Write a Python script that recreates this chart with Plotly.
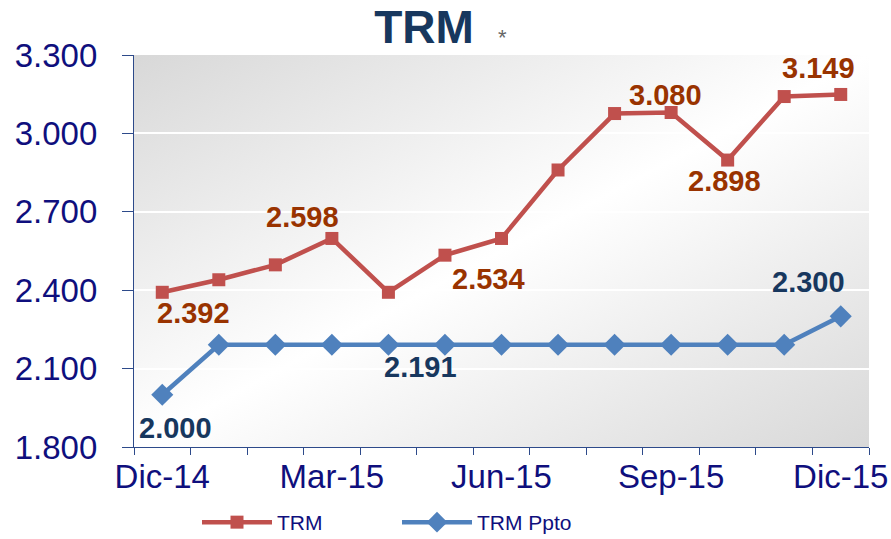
import base64
import plotly.graph_objects as go

# ---------------- data ----------------
months = ["Dic-14", "Ene-15", "Feb-15", "Mar-15", "Abr-15", "May-15", "Jun-15",
          "Jul-15", "Ago-15", "Sep-15", "Oct-15", "Nov-15", "Dic-15"]
trm = [2392, 2440, 2497, 2598, 2392, 2534, 2598, 2860, 3076, 3080, 2898, 3141, 3149]
trm_ppto = [2000, 2191, 2191, 2191, 2191, 2191, 2191, 2191, 2191, 2191, 2191, 2191, 2300]
tick_labels = ["Dic-14", "", "", "Mar-15", "", "", "Jun-15", "", "", "Sep-15", "", "", "Dic-15"]
y_ticks = [1800, 2100, 2400, 2700, 3000, 3300]

# which points carry a data label (index) and the label offset in px
trm_labels = [(0, 31, -21), (3, -29, 21), (5, 44, -24), (9, -6, 17), (10, -3, -21), (12, -22, 26)]
ppto_labels = [(0, 13, -33), (4, 32, -22), (12, -32, 34)]

RED = "#c0504d"
BLUE = "#4f81bd"
RED_TXT = "#993300"
BLUE_TXT = "#17375e"
TICK_TXT = "#0f0f7d"
AXIS = "#2d4a8a"
FONT = "Liberation Sans, Arial, sans-serif"


def fmt(v):
    return f"{v:,.0f}".replace(",", ".")


fig = go.Figure()
fig.add_trace(go.Scatter(
    x=months, y=trm, name="TRM", mode="lines+markers",
    line=dict(color=RED, width=4.5),
    marker=dict(symbol="square", size=13, color=RED),
))
fig.add_trace(go.Scatter(
    x=months, y=trm_ppto, name="TRM Ppto", mode="lines+markers",
    line=dict(color=BLUE, width=4.5),
    marker=dict(symbol="diamond", size=17, color=BLUE),
))

annotations = []
for i, dx, dy in trm_labels:
    annotations.append(dict(x=months[i], y=trm[i], text=fmt(trm[i]), showarrow=False,
                            xshift=dx, yshift=dy,
                            font=dict(family=FONT, size=29, color=RED_TXT, weight="bold")))
for i, dx, dy in ppto_labels:
    annotations.append(dict(x=months[i], y=trm_ppto[i], text=fmt(trm_ppto[i]), showarrow=False,
                            xshift=dx, yshift=dy,
                            font=dict(family=FONT, size=29, color=BLUE_TXT, weight="bold")))
annotations.append(dict(x=0.5007, y=1.082, xref="paper", yref="paper", text="*", showarrow=False,
                        font=dict(family=FONT, size=22, color="#666666")))

svg = ('<svg xmlns="http://www.w3.org/2000/svg" width="100" height="100" preserveAspectRatio="none">'
       '<defs><linearGradient id="g" x1="0" y1="0" x2="1" y2="1">'
       '<stop offset="0" stop-color="#d8d8d8"/>'
       '<stop offset="0.5" stop-color="#ffffff"/>'
       '<stop offset="1" stop-color="#d8d8d8"/>'
       '</linearGradient></defs>'
       '<rect width="100" height="100" fill="url(#g)"/></svg>')
src = "data:image/svg+xml;base64," + base64.b64encode(svg.encode()).decode()

fig.update_layout(
    width=891, height=539,
    margin=dict(l=134, r=22, t=55, b=92, autoexpand=False),
    paper_bgcolor="white", plot_bgcolor="rgba(0,0,0,0)",
    separators=",.",
    font=dict(family=FONT, color=TICK_TXT),
    title=dict(text="<b>TRM</b>", x=424 / 891, xanchor="center", xref="container",
               y=1 - 27 / 539, yanchor="middle", yref="container",
               font=dict(family=FONT, size=46, color=BLUE_TXT)),
    images=[dict(source=src, xref="paper", yref="paper", x=0, y=1, sizex=1, sizey=1,
                 sizing="stretch", layer="below", xanchor="left", yanchor="top")],
    xaxis=dict(type="category", range=[-0.5, 12.5], tickson="boundaries",
               tickvals=months, ticktext=tick_labels, tickangle=0, automargin=False,
               ticks="outside", ticklen=7, tickcolor=AXIS, tickwidth=1.3,
               showline=True, linecolor=AXIS, linewidth=1.3, showgrid=False,
               tickfont=dict(family=FONT, size=33, color=TICK_TXT)),
    yaxis=dict(range=[1800, 3300], tickvals=y_ticks, tickformat=",d", automargin=False,
               ticks="outside", ticklen=11, tickcolor=AXIS, tickwidth=1.3,
               showline=True, linecolor=AXIS, linewidth=1.3,
               showgrid=True, gridcolor="white", gridwidth=1.5, zeroline=False,
               ticklabelstandoff=18,
               tickfont=dict(family=FONT, size=33, color=TICK_TXT)),
    legend=dict(orientation="h", xref="container", yref="container",
                x=197 / 891, xanchor="left", y=1 - 502 / 539, yanchor="top",
                itemwidth=70, entrywidth=115, bgcolor="rgba(0,0,0,0)",
                font=dict(family=FONT, size=21, color=TICK_TXT), tracegroupgap=0),
    annotations=annotations,
    showlegend=True,
)

fig.write_html("out.html", config={"displayModeBar": False},
               post_script="document.body.style.margin='0';document.body.style.padding='0';")
